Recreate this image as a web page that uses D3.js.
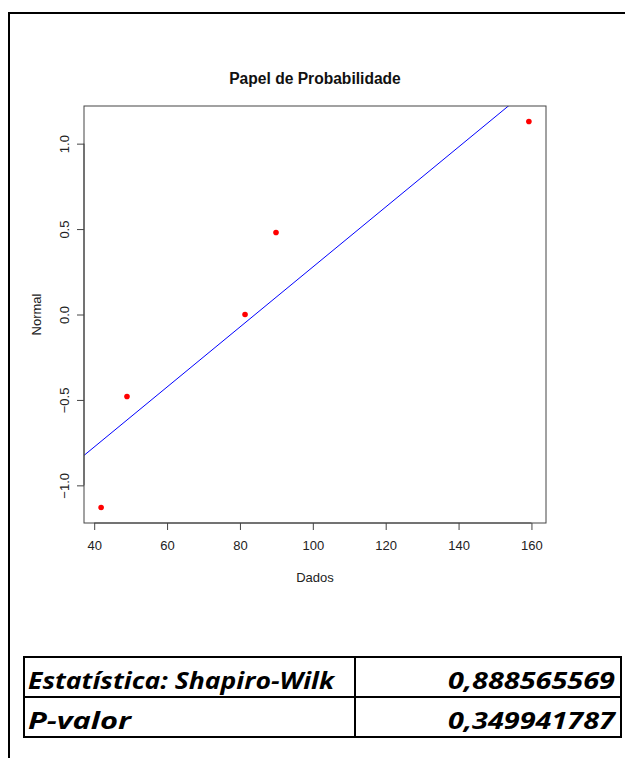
<!DOCTYPE html>
<html>
<head>
<meta charset="utf-8">
<script src="https://cdn.jsdelivr.net/npm/d3@7"></script>
<style>
  html, body { margin: 0; padding: 0; background: #fff; }
  svg { display: block; }
</style>
</head>
<body>
<div id="chart"></div>
<script>
// data
const dados = [41.9, 49.0, 81.4, 89.9, 159.3];
const normal = [-1.13, -0.48, 0.0, 0.48, 1.13];
const xTicks = [40, 60, 80, 100, 120, 140, 160];
const yTicks = [-1.0, -0.5, 0.0, 0.5, 1.0];
const lineIntercept = -1.478;   // reference line y = a + b*x
const lineSlope = 0.01756;
const statLabels = ['Estatística: Shapiro-Wilk', 'P-valor'];
const statValues = ['0,888565569', '0,349941787'];

const W = 625, H = 758;
const plot = {left: 84, top: 106, right: 546, bottom: 523};

const svg = d3.select('#chart').append('svg')
  .attr('width', W)
  .attr('height', H);

// outer frame (runs off the page at right/bottom)
svg.append('rect')
  .attr('x', 9).attr('y', 13)
  .attr('width', W + 20).attr('height', H + 20)
  .attr('fill', 'none')
  .attr('stroke', '#000')
  .attr('stroke-width', 2);

// scales, R style 4% padding
const pad = (lo, hi) => { const d = (hi - lo) * 0.04; return [lo - d, hi + d]; };
const x = d3.scaleLinear()
  .domain(pad(d3.min(dados), d3.max(dados)))
  .range([plot.left, plot.right]);
const y = d3.scaleLinear()
  .domain(pad(d3.min(normal), d3.max(normal)))
  .range([plot.bottom, plot.top]);

const font = 'Liberation Sans, Arial, sans-serif';

// title
svg.append('text')
  .attr('x', (plot.left + plot.right) / 2)
  .attr('y', 84)
  .attr('text-anchor', 'middle')
  .attr('font-family', font)
  .attr('font-weight', 'bold')
  .attr('font-size', 15.6)
  .attr('fill', '#111')
  .text('Papel de Probabilidade');

// clip for the line
svg.append('clipPath').attr('id', 'plotclip')
  .append('rect')
  .attr('x', plot.left).attr('y', plot.top)
  .attr('width', plot.right - plot.left)
  .attr('height', plot.bottom - plot.top);

// reference line
const xd = x.domain();
svg.append('line')
  .attr('clip-path', 'url(#plotclip)')
  .attr('x1', x(xd[0] - 20)).attr('y1', y(lineIntercept + lineSlope * (xd[0] - 20)))
  .attr('x2', x(xd[1] + 20)).attr('y2', y(lineIntercept + lineSlope * (xd[1] + 20)))
  .attr('stroke', '#0000ff')
  .attr('stroke-width', 1);

// points
svg.selectAll('.pt')
  .data(dados.map((d, i) => ({x: d, y: normal[i]})))
  .enter().append('circle')
  .attr('class', 'pt')
  .attr('cx', d => x(d.x))
  .attr('cy', d => y(d.y))
  .attr('r', 2.8)
  .attr('fill', '#ff0000');

// box
svg.append('rect')
  .attr('x', plot.left).attr('y', plot.top)
  .attr('width', plot.right - plot.left)
  .attr('height', plot.bottom - plot.top)
  .attr('fill', 'none')
  .attr('stroke', '#444')
  .attr('stroke-width', 1);

// x axis
const xAxis = svg.append('g')
  .attr('transform', `translate(0,${plot.bottom})`)
  .call(d3.axisBottom(x).tickValues(xTicks).tickSize(7).tickPadding(11).tickFormat(d3.format('d')));
xAxis.select('.domain').attr('d', `M${x(xTicks[0])},0H${x(xTicks[xTicks.length - 1])}`).attr('stroke', '#444');
xAxis.selectAll('line').attr('stroke', '#444');
xAxis.selectAll('text').attr('font-family', font).attr('font-size', 13).attr('fill', '#222');

// y axis (labels parallel to the axis)
const yAxis = svg.append('g')
  .attr('transform', `translate(${plot.left},0)`)
  .call(d3.axisLeft(y).tickValues(yTicks).tickSize(7).tickFormat(d3.format('.1f')));
yAxis.select('.domain').attr('d', `M0,${y(yTicks[0])}V${y(yTicks[yTicks.length - 1])}`).attr('stroke', '#444');
yAxis.selectAll('line').attr('stroke', '#444');
yAxis.selectAll('text')
  .attr('x', null).attr('dy', null)
  .attr('transform', 'translate(-15,0) rotate(-90)')
  .attr('text-anchor', 'middle')
  .attr('font-family', font).attr('font-size', 13).attr('fill', '#222');

// axis titles
svg.append('text')
  .attr('x', (plot.left + plot.right) / 2)
  .attr('y', 582)
  .attr('text-anchor', 'middle')
  .attr('font-family', font).attr('font-size', 13).attr('fill', '#222')
  .text('Dados');
svg.append('text')
  .attr('transform', `translate(41,${(plot.top + plot.bottom) / 2}) rotate(-90)`)
  .attr('text-anchor', 'middle')
  .attr('font-family', font).attr('font-size', 13).attr('fill', '#222')
  .text('Normal');

// stats table
const tbl = {left: 24, split: 355, right: 621, top: 657, rowH: 40};
const tg = svg.append('g');
statLabels.forEach((lab, i) => {
  const ty = tbl.top + i * tbl.rowH;
  tg.append('text')
    .attr('x', tbl.left + 4).attr('y', ty + 32)
    .attr('font-family', 'Open Sans, sans-serif')
    .attr('font-style', 'italic').attr('font-weight', 'bold')
    .attr('font-size', 24)
    .attr('fill', '#000')
    .attr('textLength', i === 0 ? 306 : 103)
    .attr('lengthAdjust', 'spacingAndGlyphs')
    .text(lab);
  tg.append('text')
    .attr('x', tbl.right - 6).attr('y', ty + 32)
    .attr('text-anchor', 'end')
    .attr('font-family', 'Open Sans, sans-serif')
    .attr('font-style', 'italic').attr('font-weight', 'bold')
    .attr('font-size', 24)
    .attr('fill', '#000')
    .attr('textLength', 167)
    .attr('lengthAdjust', 'spacingAndGlyphs')
    .text(statValues[i]);
});
tg.append('rect')
  .attr('x', tbl.left).attr('y', tbl.top)
  .attr('width', tbl.right - tbl.left).attr('height', tbl.rowH * 2)
  .attr('fill', 'none').attr('stroke', '#000').attr('stroke-width', 2);
tg.append('line')
  .attr('x1', tbl.left).attr('x2', tbl.right)
  .attr('y1', tbl.top + tbl.rowH).attr('y2', tbl.top + tbl.rowH)
  .attr('stroke', '#000').attr('stroke-width', 2);
tg.append('line')
  .attr('x1', tbl.split).attr('x2', tbl.split)
  .attr('y1', tbl.top).attr('y2', tbl.top + tbl.rowH * 2)
  .attr('stroke', '#000').attr('stroke-width', 2);
</script>
</body>
</html>
